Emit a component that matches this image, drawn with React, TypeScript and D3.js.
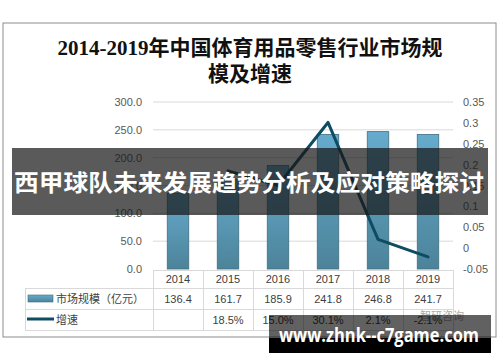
import React, { useEffect, useRef } from 'react'
import * as d3 from 'd3'

const years = ['2014', '2015', '2016', '2017', '2018', '2019']
const marketSize = [136.4, 161.7, 185.9, 241.8, 246.8, 241.7]
const growth: (number | null)[] = [null, 0.185, 0.15, 0.301, 0.021, -0.021]
const growthLabels = ['', '18.5%', '15.0%', '30.1%', '2.1%', '-2.1%']
const leftTicks = [0, 50, 100, 150, 200, 250, 300]
const rightTicks = [-0.05, 0, 0.05, 0.1, 0.15, 0.2, 0.25, 0.3, 0.35]

const W = 500
const H = 362

const App = () => {
  const ref = useRef<SVGSVGElement | null>(null)

  useEffect(() => {
    const svg = d3.select(ref.current)
    svg.selectAll('*').remove()

    const x = d3.scaleBand().domain(years).range([153, 453])
    const yL = d3.scaleLinear().domain([0, 300]).range([269, 102])
    const yR = d3.scaleLinear().domain([-0.05, 0.35]).range([269, 102])
    const bw = x.bandwidth() * 0.43

    const defs = svg.append('defs')
    const grad = defs.append('linearGradient').attr('id', 'barGrad')
      .attr('x1', 0).attr('y1', 0).attr('x2', 0).attr('y2', 1)
    grad.append('stop').attr('offset', '0%').attr('stop-color', '#66abcd')
    grad.append('stop').attr('offset', '100%').attr('stop-color', '#4c8399')

    // background + frame
    svg.append('rect').attr('width', W).attr('height', H).attr('fill', '#fff')
    svg.append('rect').attr('x', 3).attr('y', 23).attr('width', 493).attr('height', 314)
      .attr('fill', '#fff').attr('stroke', '#8c8c8c').attr('stroke-width', 1)

    // title
    const title = svg.append('text').attr('text-anchor', 'middle')
      .attr('font-family', '"Liberation Serif", "Noto Sans CJK SC", serif')
      .attr('font-size', 21).attr('font-weight', 'bold').attr('fill', '#111')
    title.append('tspan').attr('x', 250).attr('y', 55).text('2014-2019年中国体育用品零售行业市场规')
    title.append('tspan').attr('x', 250).attr('y', 81).text('模及增速')

    // gridlines
    svg.append('g').selectAll('line').data(leftTicks.slice(1)).enter().append('line')
      .attr('x1', 153).attr('x2', 453)
      .attr('y1', d => yL(d)).attr('y2', d => yL(d))
      .attr('stroke', '#d9d9d9').attr('stroke-width', 1)

    const axisFont = '"Liberation Sans", "Noto Sans", sans-serif'
    svg.append('g').selectAll('text').data(leftTicks).enter().append('text')
      .attr('x', 142).attr('y', d => yL(d) + 4)
      .attr('text-anchor', 'end').attr('font-family', axisFont).attr('font-size', 11)
      .attr('fill', '#595959').text(d => d3.format('.1f')(d))

    svg.append('g').selectAll('text').data(rightTicks).enter().append('text')
      .attr('x', 463).attr('y', d => yR(d) + 4)
      .attr('font-family', axisFont).attr('font-size', 11)
      .attr('fill', '#595959').text(d => (Math.abs(d) < 1e-9 ? '0' : String(+d.toFixed(2))))

    // bars
    svg.append('g').selectAll('rect').data(marketSize).enter().append('rect')
      .attr('x', (d, i) => (x(years[i]) as number) + x.bandwidth() / 2 - bw / 2)
      .attr('y', d => yL(d))
      .attr('width', bw)
      .attr('height', d => yL(0) - yL(d))
      .attr('fill', 'url(#barGrad)')
      .attr('stroke', '#3f6f82').attr('stroke-width', 0.8)

    // growth line
    const line = d3.line<number | null>()
      .defined(d => d !== null)
      .x((d, i) => (x(years[i]) as number) + x.bandwidth() / 2)
      .y(d => yR(d as number))
    svg.append('path').datum(growth).attr('d', line)
      .attr('fill', 'none').attr('stroke', '#0e4c62').attr('stroke-width', 3)
      .attr('stroke-linejoin', 'round').attr('stroke-linecap', 'round')

    // data table
    const tg = svg.append('g').attr('stroke', '#d9d9d9').attr('stroke-width', 1)
    tg.append('line').attr('x1', 153).attr('x2', 453).attr('y1', 270.5).attr('y2', 270.5)
    ;[288.5, 309.5, 330.5].forEach(yy => {
      tg.append('line').attr('x1', 25).attr('x2', 453).attr('y1', yy).attr('y2', yy)
    })
    tg.append('line').attr('x1', 25.5).attr('x2', 25.5).attr('y1', 288).attr('y2', 331)
    years.forEach(yr => {
      const xx = (x(yr) as number) + 0.5
      tg.append('line').attr('x1', xx).attr('x2', xx).attr('y1', 270).attr('y2', 331)
    })
    tg.append('line').attr('x1', 453.5).attr('x2', 453.5).attr('y1', 270).attr('y2', 331)

    const cell = (txt: string, cx: number, cy: number) =>
      svg.append('text').attr('x', cx).attr('y', cy).attr('text-anchor', 'middle')
        .attr('font-family', axisFont).attr('font-size', 11).attr('fill', '#404040').text(txt)
    years.forEach((yr, i) => {
      const cx = (x(yr) as number) + x.bandwidth() / 2
      cell(yr, cx, 283)
      cell(d3.format('.1f')(marketSize[i]), cx, 303)
      cell(growthLabels[i], cx, 324)
    })

    // legend keys in the table
    svg.append('rect').attr('x', 28).attr('y', 295).attr('width', 25).attr('height', 7)
      .attr('fill', 'url(#barGrad)').attr('stroke', '#3f6f82').attr('stroke-width', 0.6)
    svg.append('text').attr('x', 56).attr('y', 303).attr('font-family', '"Noto Sans CJK SC", sans-serif')
      .attr('font-size', 11).attr('fill', '#404040').text('市场规模（亿元）')
    svg.append('line').attr('x1', 27).attr('x2', 54).attr('y1', 319).attr('y2', 319)
      .attr('stroke', '#0e4c62').attr('stroke-width', 3)
    svg.append('text').attr('x', 56).attr('y', 324).attr('font-family', '"Noto Sans CJK SC", sans-serif')
      .attr('font-size', 11).attr('fill', '#404040').text('增速')

    // overlay banner
    svg.append('rect').attr('x', 12).attr('y', 148).attr('width', 476).attr('height', 67)
      .attr('fill', 'rgba(22,22,22,0.71)')
    svg.append('text').attr('x', 14).attr('y', 191)
      .attr('textLength', 470).attr('lengthAdjust', 'spacingAndGlyphs')
      .attr('font-family', '"Noto Sans CJK SC", sans-serif').attr('font-weight', 'bold')
      .attr('font-size', 23).attr('fill', '#fff').text('西甲球队未来发展趋势分析及应对策略探讨')

    // watermark
    svg.append('text').attr('x', 420).attr('y', 320).attr('font-family', '"Noto Sans CJK SC", sans-serif')
      .attr('font-size', 11).attr('fill', '#aaa').text('智研咨询')
    svg.append('rect').attr('x', 269).attr('y', 315).attr('width', 222).attr('height', 23)
      .attr('fill', 'rgba(0,0,0,0.62)')
    svg.append('rect').attr('x', 269).attr('y', 338).attr('width', 222).attr('height', 15)
      .attr('fill', '#000')
    svg.append('text').attr('x', 279).attr('y', 342)
      .attr('textLength', 200).attr('lengthAdjust', 'spacingAndGlyphs')
      .attr('font-family', '"Open Sans", "DejaVu Sans", sans-serif').attr('font-weight', 'bold')
      .attr('font-size', 19).attr('fill', '#fff').text('www.zhnk--c7game.com')
  }, [])

  return (
    <svg ref={ref} width={W} height={H}
      style={{ position: 'absolute', left: 0, top: 0, display: 'block' }} />
  )
}

export default App
